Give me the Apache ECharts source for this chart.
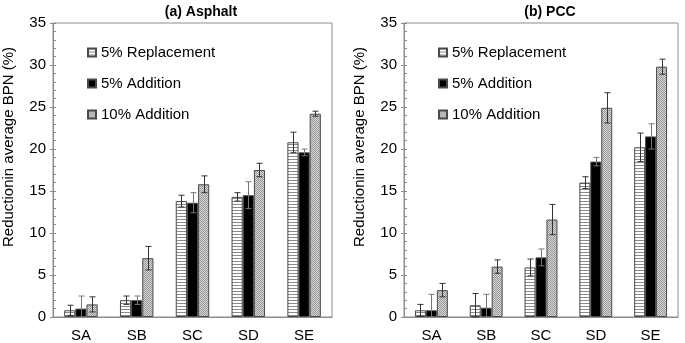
<!DOCTYPE html>
<html>
<head>
<meta charset="utf-8">
<script src="https://cdn.jsdelivr.net/npm/echarts@6/dist/echarts.min.js"></script>
<style>
  html, body { margin: 0; padding: 0; background: #fff; }
  #chart { width: 685px; height: 343px; }
</style>
</head>
<body>
<div id="chart"></div>
<script>
// categories and series names
const categories = ['SA', 'SB', 'SC', 'SD', 'SE'];
const seriesNames = ['5% Replacement', '5% Addition', '10% Addition'];
const panelTitles = ['(a) Asphalt', '(b) PCC'];
const yTicks = [0, 5, 10, 15, 20, 25, 30, 35];

// (a) Asphalt: means and error (±)
const asphaltRepl = [0.8, 2.0, 13.8, 14.3, 20.8];
const asphaltReplErr = [0.6, 0.5, 0.7, 0.5, 1.2];
const asphaltAdd5 = [1.0, 2.0, 13.6, 14.5, 19.6];
const asphaltAdd5Err = [1.5, 0.5, 1.2, 1.6, 0.4];
const asphaltAdd10 = [1.5, 7.0, 15.8, 17.5, 24.2];
const asphaltAdd10Err = [0.9, 1.4, 1.0, 0.8, 0.3];

// (b) PCC: means and error (±)
const pccRepl = [0.8, 1.4, 5.9, 16.0, 20.2];
const pccReplErr = [0.7, 1.4, 1.0, 0.7, 1.7];
const pccAdd5 = [0.8, 1.1, 7.1, 18.5, 21.5];
const pccAdd5Err = [1.9, 1.6, 1.0, 0.5, 1.5];
const pccAdd10 = [3.2, 6.0, 11.6, 24.9, 29.8];
const pccAdd10Err = [0.8, 0.8, 1.8, 1.8, 0.9];

/* 填充图案：横纹 / 实心黑 / 网点灰 */
function stripePattern() {
  const c = document.createElement('canvas');
  c.width = 4; c.height = 3;
  const ctx = c.getContext('2d');
  ctx.fillStyle = '#ffffff';
  ctx.fillRect(0, 0, 4, 3);
  ctx.fillStyle = '#8a8a8a';
  ctx.fillRect(0, 0, 4, 1);
  return c;
}
function dotPattern() {
  const c = document.createElement('canvas');
  c.width = 2; c.height = 2;
  const ctx = c.getContext('2d');
  ctx.fillStyle = '#d8d8d8';
  ctx.fillRect(0, 0, 2, 2);
  ctx.fillStyle = '#969696';
  ctx.fillRect(0, 0, 1, 1);
  ctx.fillRect(1, 1, 1, 1);
  return c;
}
const fills = [
  { image: stripePattern(), repeat: 'repeat' },
  '#000000',
  { image: dotPattern(), repeat: 'repeat' }
];

const panels = [
  { means: [asphaltRepl, asphaltAdd5, asphaltAdd10], errs: [asphaltReplErr, asphaltAdd5Err, asphaltAdd10Err] },
  { means: [pccRepl, pccAdd5, pccAdd10], errs: [pccReplErr, pccAdd5Err, pccAdd10Err] }
];

const grids = [
  { left: 53, right: 353, top: 23, bottom: 24 },
  { left: 404, right: 7, top: 23, bottom: 24 }
];

const axisColor = '#8c8c8c';
const textFont = { fontFamily: 'Liberation Sans, Arial, sans-serif', color: '#000' };

const xAxis = grids.map((g, i) => ({
  type: 'category',
  gridIndex: i,
  data: categories,
  axisLine: { lineStyle: { color: axisColor } },
  axisTick: { show: false },
  axisLabel: { ...textFont, fontSize: 15, margin: 11 }
}));

// 主轴：刻度朝外；叠加一条副轴画朝内的主/次刻度，拼出穿轴效果
const yAxis = [];
grids.forEach((g, i) => {
  yAxis.push({
    type: 'value',
    gridIndex: i,
    min: yTicks[0],
    max: yTicks[yTicks.length - 1],
    interval: 5,
    name: 'Reductionin average BPN (%)',
    nameLocation: 'middle',
    nameGap: 37,
    nameTextStyle: { ...textFont, fontSize: 15, padding: [0, 0, 0, 46] },
    axisLine: { show: true, lineStyle: { color: axisColor } },
    axisTick: { show: true, length: 3, lineStyle: { color: axisColor } },
    splitLine: { show: false },
    axisLabel: { ...textFont, fontSize: 15, margin: 7 }
  });
  yAxis.push({
    type: 'value',
    gridIndex: i,
    position: 'left',
    min: yTicks[0],
    max: yTicks[yTicks.length - 1],
    interval: 5,
    axisLine: { show: false },
    axisTick: { show: true, inside: true, length: 3, lineStyle: { color: axisColor } },
    minorTick: { show: true, splitNumber: 5, length: 3, lineStyle: { color: axisColor } },
    splitLine: { show: false },
    axisLabel: { show: false }
  });
});

const series = [];
panels.forEach((p, pi) => {
  seriesNames.forEach((name, si) => {
    series.push({
      name: name,
      type: 'bar',
      xAxisIndex: pi,
      yAxisIndex: pi * 2,
      data: p.means[si],
      barWidth: '20%',
      barGap: '0%',
      itemStyle: { color: fills[si], borderColor: '#4a4a4a', borderWidth: 1 },
      emphasis: { disabled: true }
    });
  });
  // 误差线：按柱偏移画竖线加端帽
  seriesNames.forEach((name, si) => {
    series.push({
      type: 'custom',
      xAxisIndex: pi,
      yAxisIndex: pi * 2,
      z: 5,
      silent: true,
      data: categories.map((c, k) => [k, p.means[si][k], p.errs[si][k]]),
      renderItem: (params, api) => {
        const k = api.value(0);
        const m = api.value(1);
        const e = api.value(2);
        const band = api.size([1, 0])[0];
        const dx = (si - 1) * band * 0.2;
        const top = api.coord([k, m + e]);
        const bot = api.coord([k, Math.max(0, m - e)]);
        const x = Math.round(top[0] + dx) + 0.5;
        const cap = 3;
        const style = { stroke: si === 1 ? '#777' : '#333', lineWidth: 1 };
        return {
          type: 'group',
          children: [
            { type: 'line', shape: { x1: x, y1: top[1], x2: x, y2: bot[1] }, style },
            { type: 'line', shape: { x1: x - cap, y1: top[1], x2: x + cap, y2: top[1] }, style },
            { type: 'line', shape: { x1: x - cap, y1: bot[1], x2: x + cap, y2: bot[1] }, style }
          ]
        };
      }
    });
  });
});

const chart = echarts.init(document.getElementById('chart'), null, { renderer: 'canvas' });
chart.setOption({
  animation: false,
  backgroundColor: '#ffffff',
  title: panelTitles.map((t, i) => ({
    text: t,
    left: i === 0 ? 196 : 545,
    top: 0,
    textAlign: 'center',
    textStyle: { ...textFont, fontSize: 14, fontWeight: 'bold' }
  })),
  grid: grids.map(g => ({ ...g, show: true, borderColor: axisColor, borderWidth: 1, backgroundColor: 'transparent' })),
  legend: [82, 433].map(l => ({
    left: l,
    top: 40,
    orient: 'vertical',
    itemWidth: 8,
    itemHeight: 8,
    itemGap: 16,
    icon: 'rect',
    selectedMode: false,
    data: seriesNames,
    textStyle: { ...textFont, fontSize: 15 }
  })),
  xAxis: xAxis,
  yAxis: yAxis,
  series: series
});
</script>
</body>
</html>
